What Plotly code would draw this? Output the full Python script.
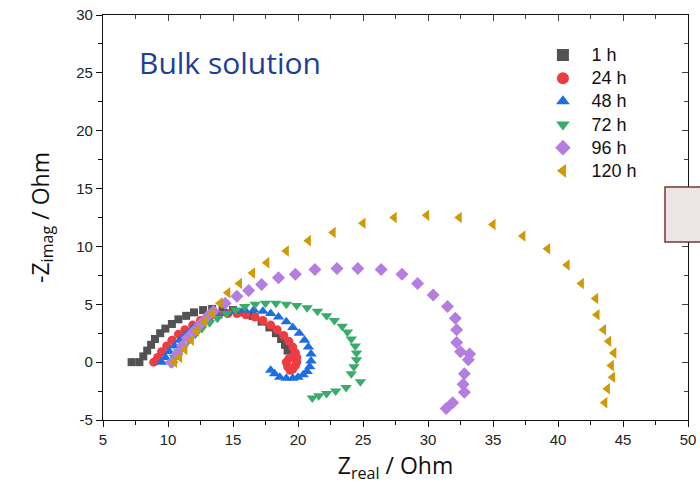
import plotly.graph_objects as go

# ---- data ----
x_1h = [7.2, 7.8, 8.1, 8.4, 8.7, 9.0, 9.4, 9.8, 10.3, 10.8, 11.4, 12.0, 12.7, 13.4, 14.2, 15.0, 15.8, 16.5, 17.2, 17.8, 18.3, 18.7, 19.0, 19.2]
y_1h = [0.0, 0.0, 0.5, 1.0, 1.5, 2.0, 2.5, 2.9, 3.3, 3.7, 4.0, 4.3, 4.5, 4.6, 4.6, 4.5, 4.3, 4.0, 3.5, 3.0, 2.5, 2.0, 1.5, 1.0]

x_24h = [8.9, 9.2, 9.5, 9.9, 10.3, 10.8, 11.3, 11.9, 12.5, 13.2, 13.9, 14.6, 15.3, 16.0, 16.7, 17.3, 17.9, 18.4, 18.9, 19.3, 19.6, 19.8, 19.9, 19.9, 19.8, 19.6, 19.4, 19.2, 19.1, 19.3, 19.6]
y_24h = [0.0, 0.4, 0.9, 1.4, 1.9, 2.4, 2.8, 3.2, 3.6, 3.9, 4.1, 4.2, 4.2, 4.1, 3.9, 3.6, 3.2, 2.8, 2.3, 1.8, 1.3, 0.8, 0.4, 0.0, -0.3, -0.6, -0.7, -0.4, 0.0, 0.3, 0.5]

x_48h = [9.5, 9.8, 10.1, 10.5, 10.9, 11.4, 11.9, 12.5, 13.1, 13.8, 14.5, 15.2, 15.9, 16.6, 17.3, 17.9, 18.5, 19.1, 19.6, 20.1, 20.5, 20.8, 21.0, 21.0, 20.9, 20.7, 20.4, 20.0, 19.6, 19.1, 18.6, 18.2, 17.9]
y_48h = [0.0, 0.4, 0.9, 1.4, 1.9, 2.4, 2.9, 3.3, 3.7, 4.0, 4.2, 4.4, 4.5, 4.5, 4.4, 4.2, 3.9, 3.5, 3.0, 2.5, 1.9, 1.3, 0.7, 0.1, -0.4, -0.8, -1.1, -1.3, -1.4, -1.4, -1.3, -1.0, -0.7]

x_72h = [10.2, 10.5, 10.8, 11.2, 11.6, 12.1, 12.6, 13.2, 13.8, 14.5, 15.2, 15.9, 16.7, 17.5, 18.3, 19.1, 19.9, 20.7, 21.5, 22.2, 22.8, 23.4, 23.8, 24.1, 24.4, 24.5, 24.5, 24.3, 24.1, 24.8, 23.7, 22.9, 22.2, 21.6, 21.1]
y_72h = [-0.1, 0.4, 0.9, 1.4, 1.9, 2.4, 2.9, 3.4, 3.8, 4.2, 4.5, 4.8, 5.0, 5.1, 5.1, 5.0, 4.9, 4.7, 4.4, 4.0, 3.6, 3.1, 2.6, 2.0, 1.4, 0.8, 0.2, -0.4, -1.0, -1.7, -2.2, -2.5, -2.7, -2.9, -3.1]

x_96h = [10.3, 10.7, 11.1, 11.5, 12.0, 12.5, 13.0, 13.5, 14.4, 15.3, 16.2, 17.2, 18.5, 19.8, 21.3, 23.0, 24.6, 26.4, 28.0, 29.2, 30.4, 31.5, 32.1, 32.2, 32.2, 32.5, 33.2, 33.1, 32.8, 32.7, 32.8, 31.9, 31.4]
y_96h = [0.0, 0.7, 1.4, 2.1, 2.7, 3.3, 3.9, 4.4, 5.1, 5.7, 6.2, 6.7, 7.3, 7.6, 8.0, 8.1, 8.1, 8.0, 7.6, 6.8, 5.8, 4.8, 3.8, 2.8, 1.7, 0.9, 0.7, 0.2, -1.0, -1.9, -2.6, -3.5, -4.0]

x_120h = [10.5, 10.9, 11.3, 11.8, 12.2, 12.8, 13.4, 14.0, 14.6, 15.5, 16.5, 17.6, 19.1, 20.8, 22.7, 25.0, 27.4, 29.9, 32.4, 35.0, 37.3, 39.2, 40.7, 41.8, 42.9, 43.0, 43.5, 43.9, 44.3, 44.1, 44.2, 43.8, 43.6]
y_120h = [0.0, 0.4, 1.1, 1.9, 2.7, 3.5, 4.2, 5.1, 6.0, 6.8, 7.7, 8.6, 9.6, 10.5, 11.2, 12.0, 12.5, 12.7, 12.5, 11.9, 10.9, 9.8, 8.4, 6.8, 5.5, 4.1, 2.8, 1.8, 0.8, -0.3, -1.3, -2.3, -3.5]

series_names = ["1 h", "24 h", "48 h", "72 h", "96 h", "120 h"]
x_ticks = [5, 10, 15, 20, 25, 30, 35, 40, 45, 50]
y_ticks = [-5, 0, 5, 10, 15, 20, 25, 30]

xs = [x_1h, x_24h, x_48h, x_72h, x_96h, x_120h]
ys = [y_1h, y_24h, y_48h, y_72h, y_96h, y_120h]
colors = ["#525252", "#ee3d42", "#1b6fe3", "#38ad6a", "#b57ddf", "#cf9a05"]
symbols = ["square", "circle", "triangle-up", "triangle-down", "diamond", "triangle-left"]
sizes = [8, 9, 10, 10, 10, 10]

fig = go.Figure()
for name, x, y, c, s, sz in zip(series_names, xs, ys, colors, symbols, sizes):
    fig.add_trace(go.Scatter(
        x=x, y=y, mode="markers",
        name="\u00a0\u00a0<span style='font-size:18px'>" + name + "</span>",
        marker=dict(color=c, symbol=s, size=sz, line=dict(width=0)),
    ))

# invisible trace to drive the mirrored (inward-tick) top/right axes
fig.add_trace(go.Scatter(x=[5, 50], y=[-5, 30], xaxis="x2", yaxis="y2",
                         mode="markers", marker=dict(opacity=0), showlegend=False, hoverinfo="skip"))

tickfont = dict(family="Liberation Sans, Arial, sans-serif", size=15, color="#222222")
axis_common = dict(showline=True, linecolor="#111111", linewidth=1.3, showgrid=False,
                   zeroline=False, ticks="outside", ticklen=6, tickwidth=1.2, tickcolor="#111111",
                   tickfont=tickfont, automargin=False)

fig.update_layout(
    width=700, height=495,
    margin=dict(l=103, r=12, t=15, b=75, autoexpand=False),
    paper_bgcolor="white", plot_bgcolor="white",
    xaxis=dict(range=[5, 50], tickvals=x_ticks, ticktext=[str(v) for v in x_ticks], **axis_common,
               minor=dict(ticks="outside", ticklen=4, dtick=2.5, tick0=5, tickcolor="#111111", tickwidth=1.2),
               title=dict(text="Z<sub>real</sub> / Ohm", standoff=10,
                          font=dict(family="Open Sans, Lato, sans-serif", size=23, color="#111111"))),
    yaxis=dict(range=[-5, 30], tickvals=y_ticks, ticktext=[str(v) for v in y_ticks], **axis_common,
               minor=dict(ticks="outside", ticklen=4, dtick=2.5, tick0=-5, tickcolor="#111111", tickwidth=1.2),
               title=dict(text="-Z<sub>imag</sub> / Ohm", standoff=20,
                          font=dict(family="Open Sans, Lato, sans-serif", size=23, color="#111111"))),
    xaxis2=dict(range=[5, 50], overlaying="x", side="top", showline=True, linecolor="#111111",
                linewidth=1.3, ticks="inside", ticklen=6, tickwidth=1.2, tickvals=x_ticks,
                showticklabels=False, showgrid=False, zeroline=False, automargin=False,
                minor=dict(ticks="inside", ticklen=4, dtick=2.5, tick0=5, tickwidth=1.2)),
    yaxis2=dict(range=[-5, 30], overlaying="y", side="right", showline=True, linecolor="#111111",
                linewidth=1.3, ticks="inside", ticklen=6, tickwidth=1.2, tickvals=y_ticks,
                showticklabels=False, showgrid=False, zeroline=False, automargin=False,
                minor=dict(ticks="inside", ticklen=4, dtick=2.5, tick0=-5, tickwidth=1.2)),
    legend=dict(x=0.752, y=0.942, xanchor="left", yanchor="top", bgcolor="rgba(0,0,0,0)",
                font=dict(family="Liberation Sans, Arial, sans-serif", size=15.5, color="#111111"),
                tracegroupgap=0, itemsizing="constant"),
    showlegend=True,
)

fig.add_annotation(x=7.6, y=25.9, xref="x", yref="y", text="Bulk solution", showarrow=False,
                   xanchor="left", yanchor="middle",
                   font=dict(family="Open Sans, Lato, sans-serif", size=30, color="#1d3f9a"))

fig.add_shape(type="rect", xref="paper", yref="paper", x0=(665 - 103) / 585, x1=1.03,
              y0=(420 - 242) / 405, y1=(420 - 187) / 405,
              fillcolor="#ebe5e5", line=dict(color="#7a3535", width=1.5), layer="above")

fig.write_html("out.html")
